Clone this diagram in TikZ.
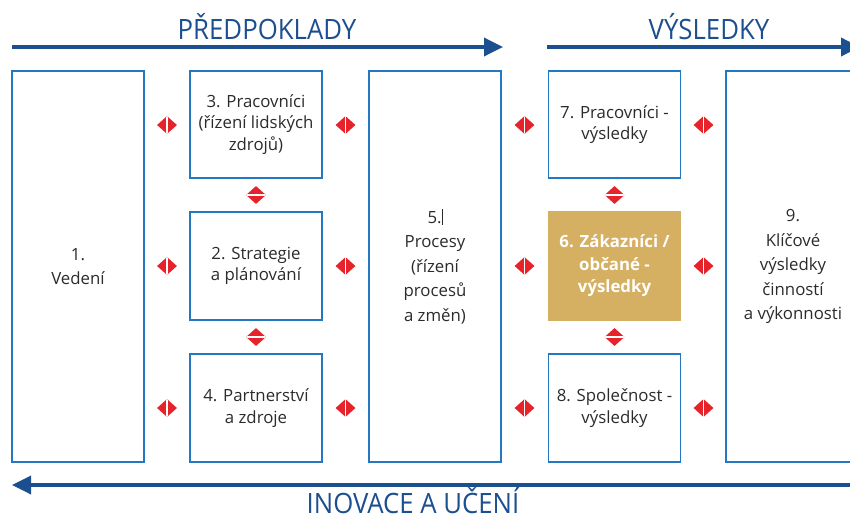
\documentclass[tikz,border=0pt]{standalone}
\usepackage{fontspec}
\setmainfont{Open Sans}
\usetikzlibrary{shapes.geometric,arrows.meta}
\definecolor{boxblue}{HTML}{2478C0}
\definecolor{darkblue}{HTML}{1C4F8F}
\definecolor{goldfill}{HTML}{D5B062}
\definecolor{dred}{HTML}{E6222A}
\definecolor{txt}{HTML}{2B2B2B}
\begin{document}
\begin{tikzpicture}[x=1pt,y=-1pt,
  box/.style={draw=boxblue, line width=1.6pt, inner sep=0pt, align=center,
    text=txt, font=\fontsize{16.8}{21.5}\selectfont, minimum width=132pt},
  smallbox/.style={box, minimum height=107pt},
  tallbox/.style={box, minimum height=391pt, font=\fontsize{16.8}{24.5}\selectfont},
  goldbox/.style={smallbox, fill=goldfill, draw=goldfill, text=white, font=\fontsize{16.8}{22.5}\selectfont\bfseries},
  dia/.style={diamond, fill=dred, inner sep=0pt, minimum width=20pt, minimum height=18pt},
  diah/.style={dia, path picture={\draw[white, line width=1.3pt] (path picture bounding box.north) -- (path picture bounding box.south);}},
  diav/.style={dia, path picture={\draw[white, line width=1.3pt] (path picture bounding box.west) -- (path picture bounding box.east);}},
  bigarrow/.style={draw=darkblue, line width=3.5pt, -{Triangle[length=19pt,width=18pt]}},
  title/.style={text=darkblue, font=\fontsize{28}{30}\selectfont, inner sep=0pt}
]
\useasboundingbox (0,0) rectangle (850,519);

% titles
\node[title] (t1) at (267,27) {\scalebox{0.92}[1]{PŘEDPOKLADY}};
\node[title] (t2) at (709,27) {\scalebox{0.92}[1]{VÝSLEDKY}};
\node[title] (t3) at (413,501) {\scalebox{0.92}[1]{INOVACE A UČENÍ}};

% arrows
\coordinate (a1s) at (12,47);
\coordinate (a1e) at (503,47);
\coordinate (a2s) at (547,47);
\coordinate (a2e) at (860,47);
\coordinate (a3s) at (852,485);
\coordinate (a3e) at (12,485);
\draw[bigarrow] (a1s) -- (a1e);
\draw[bigarrow] (a2s) -- (a2e);
\draw[bigarrow] (a3s) -- (a3e);

% boxes
\node[tallbox] (b1) at (78,266.5) {1.\\Vedení};
\node[smallbox] (b3) at (256,124.5) {3. Pracovníci\\(řízení lidských\\zdrojů)};
\node[smallbox, minimum height=108pt] (b2) at (256,266) {2. Strategie\\a plánování};
\node[smallbox, minimum height=108pt] (b4) at (256,408) {4. Partnerství\\a zdroje};
\node[tallbox] (b5) at (435,266.5) {5.\rule[-1.5pt]{0.9pt}{16pt}\\Procesy\\(řízení\\procesů\\a změn)};
\node[smallbox] (b7) at (614.5,124.5) {7. Pracovníci -\\výsledky};
\node[goldbox, minimum height=108pt] (b6) at (614.5,266) {6. Zákazníci /\\občané -\\výsledky};
\node[smallbox, minimum height=108pt] (b8) at (614.5,408) {8. Společnost -\\výsledky};
\node[tallbox, minimum width=134pt] (b9) at (793,266.5) {9.\\Klíčové\\výsledky\\činností\\a výkonnosti};

% horizontal double diamonds
\foreach \x/\n in {167/a,345.5/b,524.5/c,703.5/d}{
  \foreach \y/\m in {125/1,266/2,408/3}{
    \node[diah] (h\n\m) at (\x,\y) {};
  }
}
% vertical double diamonds
\foreach \x/\n in {256/a,614.5/b}{
  \foreach \y/\m in {195/1,337/2}{
    \node[diav] (v\n\m) at (\x,\y) {};
  }
}
\end{tikzpicture}
\end{document}
